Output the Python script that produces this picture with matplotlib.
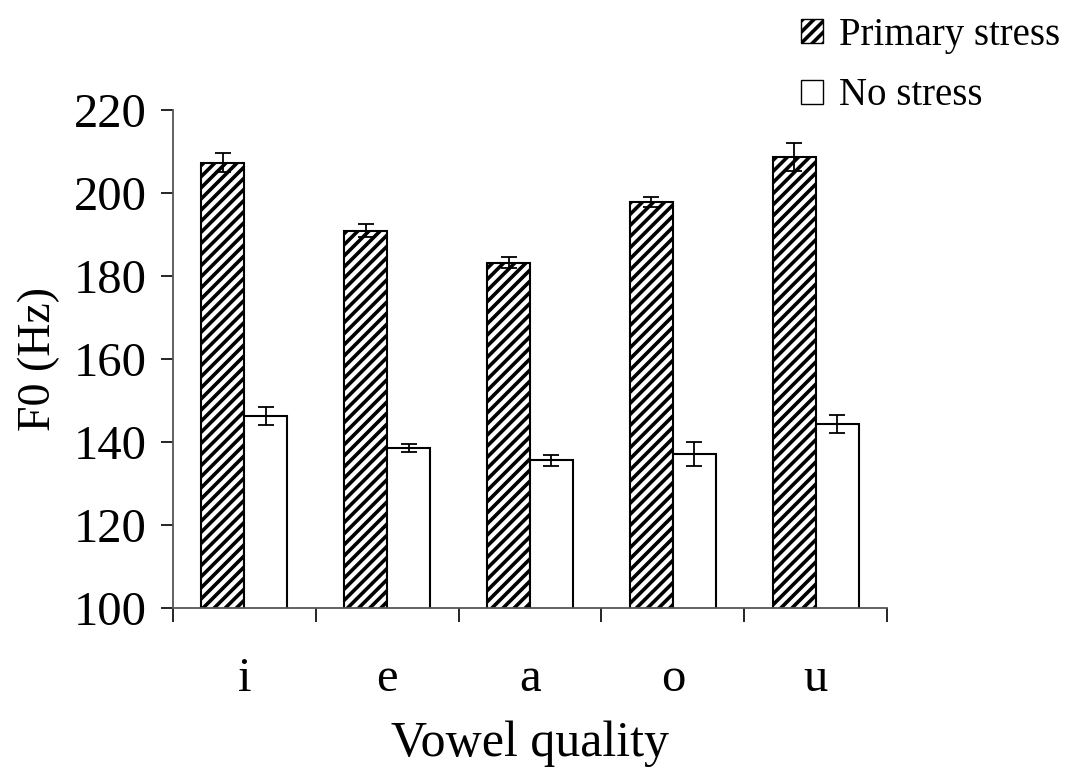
import numpy as np
import matplotlib
matplotlib.use("Agg")
import matplotlib.pyplot as plt
from matplotlib.patches import Patch

# F0 by vowel quality, stressed vs unstressed
vowels = ["i", "e", "a", "o", "u"]
primary = [207.3, 190.9, 183.2, 197.7, 208.7]
primary_err = [2.3, 1.5, 1.4, 1.2, 3.4]
nostress = [146.2, 138.6, 135.6, 137.1, 144.3]
nostress_err = [2.2, 1.0, 1.3, 3.0, 2.2]

plt.rcParams["font.family"] = ["Liberation Serif", "DejaVu Serif"]
plt.rcParams["hatch.linewidth"] = 2.6
plt.rcParams["hatch.color"] = "black"

fig = plt.figure(figsize=(10.74, 7.68), dpi=100)
ax = fig.add_axes([0.161, 0.2083, 0.665, 0.6487])

x = np.arange(len(vowels))
w = 0.3

ax.bar(x + 0.2, primary, width=w, align="edge",
       facecolor="white", edgecolor="black", linewidth=1.5, hatch="///")
ax.bar(x + 0.5, nostress, width=w, align="edge",
       facecolor="white", edgecolor="black", linewidth=1.5)

err_kw = dict(fmt="none", ecolor="black", elinewidth=1.3, capsize=5.8, capthick=1.3)
ax.errorbar(x + 0.35, primary, yerr=primary_err, **err_kw)
ax.errorbar(x + 0.65, nostress, yerr=nostress_err, **err_kw)

ax.set_xlim(0, 5)
ax.set_ylim(100, 220)
ax.set_yticks(np.arange(100, 221, 20))
ax.set_xticks(x + 0.5)
ax.set_xticklabels(vowels)
ax.set_xticks(np.arange(0, 6), minor=True)
ax.tick_params(axis="x", which="major", length=0, labelsize=35, pad=35)
ax.tick_params(axis="x", which="minor", length=10, width=1.2, direction="out", color="black")
ax.tick_params(axis="y", length=9, width=1.2, labelsize=35, pad=10, color="black")

for s in ["top", "right"]:
    ax.spines[s].set_visible(False)
for s in ["left", "bottom"]:
    ax.spines[s].set_color("#555555")
    ax.spines[s].set_linewidth(1.3)

ax.set_ylabel("F0 (Hz)", fontsize=33, labelpad=10)
ax.set_xlabel("Vowel quality", fontsize=36, labelpad=14)

handles = [Patch(facecolor="white", edgecolor="black", hatch="///", label="Primary stress"),
           Patch(facecolor="white", edgecolor="black", label="No stress")]
fig.legend(handles=handles, loc="upper left", bbox_to_anchor=(0.735, 0.993),
           frameon=False, fontsize=28, handlelength=0.57, handleheight=0.57,
           handletextpad=0.4, labelspacing=0.6, borderaxespad=0, borderpad=0.3)

fig.savefig("out.png", dpi=100)
